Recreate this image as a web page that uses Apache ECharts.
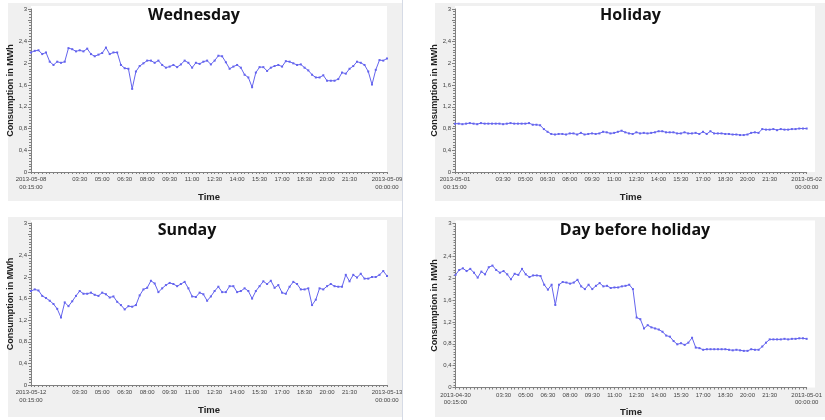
<!DOCTYPE html>
<html><head><meta charset="utf-8">
<script src="https://cdn.jsdelivr.net/npm/echarts@6/dist/echarts.min.js"></script>
<style>html,body{margin:0;padding:0;background:#fff}#c{width:825px;height:420px}</style>
</head><body><div id="c"></div><script>
const titles = ['Wednesday', 'Holiday', 'Sunday', 'Day before holiday'];
const startDates = ['2013-05-08', '2013-05-01', '2013-05-12', '2013-04-30'];
const endDates = ['2013-05-09', '2013-05-02', '2013-05-13', '2013-05-01'];
function pad(n) { return (n < 10 ? '0' : '') + n; }
const categories = [];
for (let i = 1; i <= 96; i++) { const m = (i * 15) % 1440; categories.push(pad(Math.floor(m / 60)) + ':' + pad(m % 60)); }
const tickLabels = ['03:30','05:00','06:30','08:00','09:30','11:00','12:30','14:00','15:30','17:00','18:30','20:00','21:30'];
const yTickValues = [0, 0.4, 0.8, 1.2, 1.6, 2, 2.4, 3];
const yTickLabels = ['0', '0,4', '0,8', '1,2', '1,6', '2', '2,4', '3'];

const wednesday = [2.20,2.23,2.24,2.17,2.20,2.03,1.97,2.03,2.01,2.03,
 2.28,2.26,2.22,2.24,2.22,2.27,2.17,2.13,2.16,2.19,
 2.29,2.17,2.20,2.20,1.97,1.91,1.90,1.53,1.85,1.95,
 2.00,2.05,2.05,2.01,2.05,1.97,1.92,1.94,1.97,1.93,
 1.98,2.05,2.01,1.92,2.01,1.99,2.03,2.05,1.98,2.05,
 2.14,2.13,2.02,1.90,1.94,1.97,1.92,1.79,1.74,1.56,
 1.83,1.93,1.93,1.86,1.92,1.95,1.97,1.94,2.04,2.03,
 2.00,1.97,1.98,1.92,1.87,1.79,1.74,1.74,1.78,1.68,
 1.68,1.68,1.71,1.83,1.81,1.90,1.95,2.03,2.01,1.97,
 1.85,1.61,1.88,2.06,2.05,2.09];
const holiday = [0.89,0.89,0.88,0.89,0.90,0.89,0.88,0.90,0.89,0.89,
 0.89,0.89,0.89,0.88,0.89,0.90,0.89,0.89,0.89,0.89,
 0.90,0.87,0.87,0.86,0.79,0.74,0.70,0.69,0.70,0.70,
 0.69,0.71,0.71,0.69,0.72,0.69,0.70,0.71,0.70,0.71,
 0.74,0.73,0.71,0.72,0.74,0.76,0.73,0.71,0.70,0.73,
 0.71,0.72,0.71,0.72,0.73,0.75,0.75,0.73,0.73,0.73,
 0.71,0.71,0.73,0.71,0.71,0.72,0.70,0.74,0.70,0.75,
 0.71,0.71,0.71,0.70,0.70,0.69,0.69,0.68,0.68,0.69,
 0.72,0.73,0.72,0.79,0.78,0.78,0.79,0.77,0.79,0.78,
 0.78,0.79,0.79,0.80,0.80,0.80];
const sunday = [1.74,1.77,1.75,1.65,1.61,1.56,1.50,1.41,1.25,1.53,
 1.46,1.55,1.65,1.74,1.69,1.69,1.71,1.67,1.65,1.71,
 1.68,1.62,1.64,1.54,1.48,1.40,1.46,1.45,1.48,1.66,
 1.77,1.80,1.93,1.88,1.72,1.79,1.85,1.89,1.87,1.83,
 1.87,1.91,1.79,1.64,1.63,1.71,1.68,1.56,1.64,1.74,
 1.82,1.72,1.72,1.83,1.83,1.72,1.74,1.79,1.74,1.60,
 1.74,1.83,1.92,1.87,1.93,1.80,1.85,1.71,1.69,1.82,
 1.91,1.87,1.77,1.77,1.79,1.48,1.58,1.79,1.77,1.83,
 1.87,1.83,1.82,1.82,2.04,1.92,2.04,1.99,2.06,1.97,
 1.97,2.00,2.00,2.04,2.11,2.02];
const dayBeforeHoliday = [2.06,2.15,2.18,2.13,2.17,2.10,2.01,2.12,2.07,2.20,
 2.23,2.15,2.10,2.13,2.07,1.98,2.08,2.06,2.17,2.07,
 2.02,2.05,2.05,2.04,1.88,1.79,1.88,1.51,1.88,1.93,
 1.92,1.90,1.92,1.97,1.85,1.80,1.88,1.80,1.86,1.91,
 1.85,1.86,1.82,1.83,1.83,1.85,1.86,1.88,1.80,1.28,
 1.25,1.08,1.14,1.10,1.08,1.06,1.02,0.95,0.93,0.85,
 0.79,0.81,0.78,0.82,0.91,0.73,0.72,0.69,0.70,0.70,
 0.70,0.70,0.70,0.70,0.69,0.68,0.69,0.68,0.67,0.67,
 0.70,0.69,0.69,0.75,0.82,0.88,0.88,0.88,0.88,0.89,
 0.88,0.89,0.89,0.90,0.90,0.89];
const seriesData = [wednesday, holiday, sunday, dayBeforeHoliday];

const grids = [
  {left: 31, top: 9, width: 356, height: 163},
  {left: 455, top: 9, width: 360, height: 163},
  {left: 31, top: 223, width: 356, height: 162},
  {left: 455.5, top: 223.5, width: 359.5, height: 164}
];
const panels = [[8, 3, 394, 198], [435, 3, 390, 198], [8, 217, 394, 200], [435, 217, 390, 200]];
const titlePos = [[194, 15], [630.5, 15], [187, 230], [635, 230.5]];

const LINE = '#6464ee';
const AXIS = '#808080';
const graphic = [];
panels.forEach(p => graphic.push({type: 'rect', z: -10, shape: {x: p[0], y: p[1], width: p[2], height: p[3]}, style: {fill: '#f0f0f0'}, silent: true}));
grids.forEach(g => graphic.push({type: 'rect', z: -9, shape: {x: g.left, y: g.top - 3, width: g.width, height: g.height + 3}, style: {fill: '#ffffff'}, silent: true}));
graphic.push({type: 'line', z: -8, shape: {x1: 402.5, y1: 0, x2: 402.5, y2: 420}, style: {stroke: '#d6dbe6', lineWidth: 1}, silent: true});
titles.forEach((t, k) => graphic.push({type: 'text', z: 10, x: titlePos[k][0], y: titlePos[k][1], style: {text: t, font: 'bold 16px "Open Sans", sans-serif', fill: '#111', textAlign: 'center', textVerticalAlign: 'middle'}}));

const xAxis = [], yAxis = [], series = [];
for (let k = 0; k < 4; k++) {
  xAxis.push({
    gridIndex: k, type: 'category', data: categories, boundaryGap: false,
    name: 'Time', nameLocation: 'middle', nameGap: 20,
    nameTextStyle: {fontFamily: 'Liberation Sans', fontWeight: 'bold', fontSize: 9.5, color: '#222'},
    axisLine: {lineStyle: {color: AXIS, width: 1}},
    axisTick: {show: true, interval: 0, length: 2, lineStyle: {color: AXIS}},
    axisLabel: {
      fontFamily: 'Liberation Sans', fontSize: 6, color: '#444', margin: 4, lineHeight: 7.5,
      interval: (i) => i === 0 || i === 95 || tickLabels.indexOf(categories[i]) >= 0,
      formatter: (val, i) => i === 0 ? startDates[k] + '\n' + val + ':00' : (i === 95 ? endDates[k] + '\n00:00:00' : val)
    },
    splitLine: {show: false}
  });
  yAxis.push({
    gridIndex: k, type: 'value', min: 0, max: 3, interval: 0.4,
    name: 'Consumption in MWh', nameLocation: 'middle', nameGap: 9,
    nameTextStyle: {fontFamily: 'Liberation Sans', fontWeight: 'bold', fontSize: 9, color: '#222'},
    axisLine: {show: true, lineStyle: {color: AXIS, width: 1}},
    axisTick: {show: true, length: 3, lineStyle: {color: AXIS}},
    minorTick: {show: true, splitNumber: 8, length: 2, lineStyle: {color: AXIS}},
    axisLabel: {
      fontFamily: 'Liberation Sans', fontSize: 6, color: '#444', margin: 4,
      formatter: (v) => { const idx = yTickValues.findIndex(t => Math.abs(t - v) < 1e-6); return idx >= 0 ? yTickLabels[idx] : ''; }
    },
    splitLine: {show: false}
  });
  series.push({
    type: 'line', xAxisIndex: k, yAxisIndex: k, data: seriesData[k],
    symbol: 'rect', symbolSize: 2, showSymbol: true, showAllSymbol: true,
    lineStyle: {color: LINE, width: 1}, itemStyle: {color: LINE}
  });
}

const chart = echarts.init(document.getElementById('c'), null, {renderer: 'canvas'});
chart.setOption({animation: false, backgroundColor: '#fff', grid: grids, xAxis, yAxis, series, graphic});
</script></body></html>
